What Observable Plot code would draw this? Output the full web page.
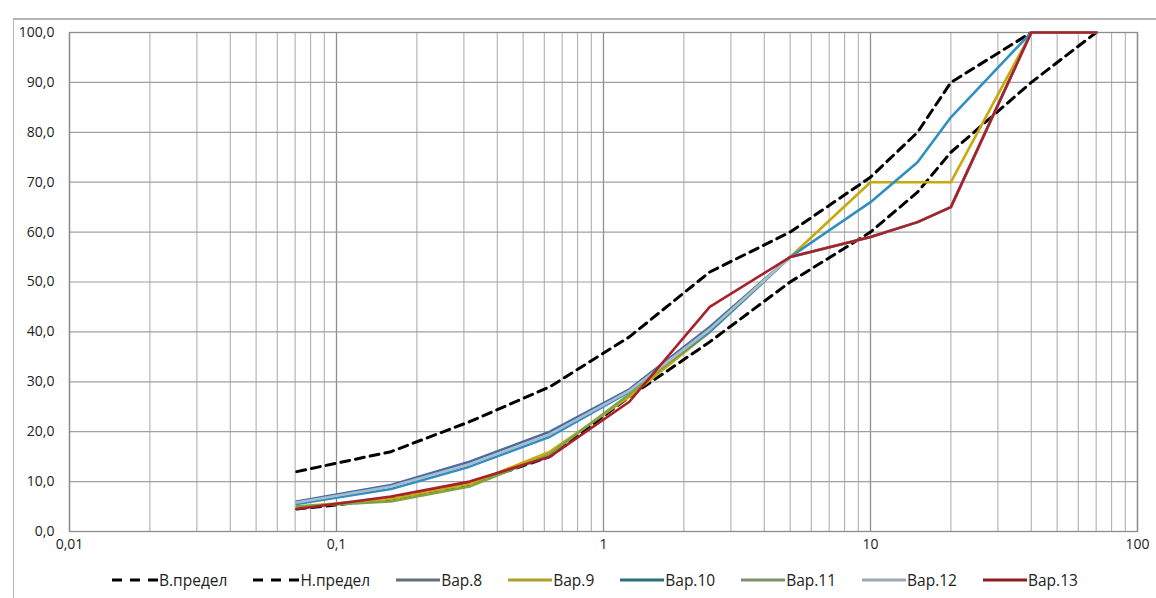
<!DOCTYPE html>
<html>
<head>
<meta charset="utf-8">
<script src="https://cdn.jsdelivr.net/npm/d3@7"></script>
<script src="https://cdn.jsdelivr.net/npm/@observablehq/plot@0.6"></script>
<style>
  html, body { margin: 0; padding: 0; background: #fff; }
  #wrap { position: relative; width: 1156px; height: 598px; overflow: hidden; font-family: "Open Sans", "Noto Sans", sans-serif; }
  #deco { position: absolute; left: 13px; top: 18px; width: 1150px; height: 590px; border-top: 2px solid #b5b5b5; border-left: 1px solid #b5b5b5; pointer-events: none; }
  #legend { position: absolute; left: 112px; top: 569px; display: flex; font-size: 15.5px; color: #222; line-height: 22px; white-space: nowrap; }
  .item { display: flex; align-items: center; margin-right: 26px; }
  .item svg { margin-right: 1px; }
</style>
</head>
<body>
<div id="wrap"><div id="deco"></div><div id="chart"></div><div id="legend"></div></div>
<script>
// Sieve sizes, mm
const sizes = [0.071, 0.16, 0.315, 0.63, 1.25, 2.5, 5, 10, 15, 20, 40, 70];
// Series (% passing)
const upperLimit = [12, 16, 22, 29, 39, 52, 60, 71, 80, 90, 100, 100];
const lowerLimit = [4.5, 6.5, 9.5, 15, 27, 38, 50, 60, 68, 76, 90, 100];
const var8  = [6.0, 9.3, 14.0, 20.0, 28.5, 41.0, 55, 59, 62, 65, 100, 100];
const var9  = [5.0, 6.5, 9.5, 16.0, 27.0, 40.0, 55, 70, 70, 70, 100, 100];
const var10 = [5.5, 8.5, 13.0, 19.0, 28.0, 40.0, 55, 66, 74, 83, 100, 100];
const var11 = [5.0, 6.0, 9.0, 15.5, 27.5, 40.5, 55, 59, 62, 65, 100, 100];
const var12 = [5.8, 9.0, 13.5, 19.5, 28.2, 40.5, 55, 59, 62, 65, 100, 100];
const var13 = [4.5, 7.0, 10.0, 15.0, 26.0, 45.0, 55, 59, 62, 65, 100, 100];

const seriesNames = ["В.предел", "Н.предел", "Вар.8", "Вар.9", "Вар.10", "Вар.11", "Вар.12", "Вар.13"];
const seriesValues = [upperLimit, lowerLimit, var8, var9, var10, var11, var12, var13];
const seriesColors = ["#000000", "#000000", "#4a6aa0", "#c9a80a", "#2f8fc2", "#7ea446", "#a9bccc", "#a8202c"];
const legendColors = ["#000000", "#000000", "#5f6f80", "#b0a028", "#2a6f80", "#7d8f6a", "#9fa9b2", "#8e1c28"];
const seriesDashed = [true, true, false, false, false, false, false, false];

// Tick labels
const xTicks = [0.01, 0.1, 1, 10, 100];
const xTickLabels = ["0,01", "0,1", "1", "10", "100"];
const yTicks = [0, 10, 20, 30, 40, 50, 60, 70, 80, 90, 100];
const yTickLabels = ["0,0", "10,0", "20,0", "30,0", "40,0", "50,0", "60,0", "70,0", "80,0", "90,0", "100,0"];

// minor log grid positions
const xGrid = [];
for (let e = -2; e <= 1; e++) for (let m = 2; m <= 9; m++) xGrid.push(m * Math.pow(10, e));

const marks = [
  Plot.ruleX(xGrid, {stroke: "#a8a8a8", strokeWidth: 1}),
  Plot.ruleX(xTicks, {stroke: "#8f8f8f", strokeWidth: 1.3}),
  Plot.ruleY(yTicks, {stroke: "#a0a0a0", strokeWidth: 1.2}),
  Plot.frame({stroke: "#8c8c8c", strokeWidth: 1.3})
];
seriesValues.forEach((vals, i) => {
  const data = sizes.map((s, j) => ({size: s, value: vals[j]}));
  marks.push(Plot.line(data, {
    x: "size", y: "value",
    stroke: seriesColors[i],
    strokeWidth: seriesDashed[i] ? 3 : 2.6,
    strokeDasharray: seriesDashed[i] ? "9,6" : null,
    strokeLinejoin: "round"
  }));
});
marks.push(Plot.axisX(xTicks, {tickSize: 0, tickPadding: 8, tickFormat: d => xTickLabels[xTicks.indexOf(d)], fontSize: 14, fill: "#222"}));
marks.push(Plot.axisY(yTicks, {tickSize: 0, tickPadding: 15, tickFormat: d => yTickLabels[yTicks.indexOf(d)], fontSize: 14, fill: "#222"}));

const chart = Plot.plot({
  width: 1156,
  height: 560,
  marginLeft: 69,
  marginRight: 19,
  marginTop: 32,
  marginBottom: 29,
  style: {fontFamily: "'Open Sans', 'Noto Sans', sans-serif", background: "transparent"},
  x: {type: "log", domain: [0.01, 100], label: null},
  y: {domain: [0, 100], label: null},
  marks
});
document.getElementById("chart").appendChild(chart);

// Legend
const legend = d3.select("#legend");
seriesNames.forEach((name, i) => {
  const item = legend.append("div").attr("class", "item");
  const w = seriesDashed[i] ? 46 : 44;
  const svg = item.append("svg").attr("width", w).attr("height", 10);
  svg.append("line").attr("x1", 0).attr("x2", w).attr("y1", 5).attr("y2", 5)
    .attr("stroke", legendColors[i]).attr("stroke-width", 3)
    .attr("stroke-dasharray", seriesDashed[i] ? "10,8" : null);
  item.append("span").text(name);
});
</script>
</body>
</html>
